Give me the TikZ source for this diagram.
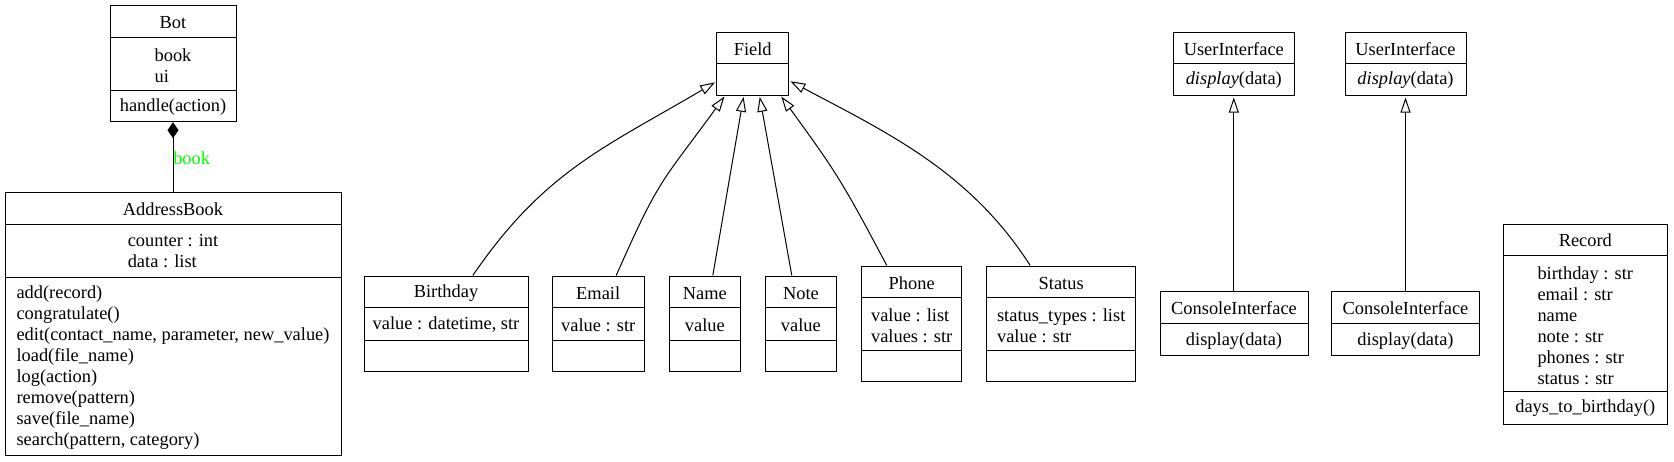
\documentclass[tikz,border=0pt]{standalone}
\usepackage{fontspec}
\setmainfont{Liberation Serif}
\usetikzlibrary{arrows.meta,fit,calc}
\definecolor{lblgreen}{RGB}{0,255,0}
\begin{document}
\begin{tikzpicture}[x=0.75pt,y=-0.75pt,
  box/.style={draw, line width=0.75pt, inner sep=0pt},
  divider/.style={line width=0.75pt},
  txt/.style={inner sep=0pt, font=\fontsize{13.8}{15.75}\selectfont, align=center},
  lft/.style={txt, align=left},
  inh/.style={line width=0.75pt, shorten >=1pt, -{Triangle[open,length=11.25pt,width=7.5pt]}},
  comp/.style={line width=0.75pt, {Diamond[length=12pt,width=8.25pt]}-},
  lbl/.style={inner sep=0pt, font=\fontsize{13.8}{15.75}\selectfont, text=lblgreen}]
\fill[white] (0,0) rectangle (1674,461);
\useasboundingbox (0,0) rectangle (1674,461);

% Bot
\node[box, fit={(110,5.7)(236,121.7)}] (bot) {};
\draw[divider] (110,37.7) -- (236,37.7);
\draw[divider] (110,90) -- (236,90);
\node[txt] (botT) at (173,22.5) {Bot};
\node[lft] (botA) at (173,65.5) {book\\ui};
\node[txt] (botM) at (173,107) {handle(action)};

% AddressBook
\node[box, fit={(5,192)(341,455)}] (ab) {};
\draw[divider] (5,224) -- (341,224);
\draw[divider] (5,277) -- (341,277);
\node[txt] (abT) at (173,209) {AddressBook};
\node[lft] (abA) at (173,251.5) {counter : int\\data : list};
\node[lft] (abM) at (173,368) {add(record)\\congratulate()\\edit(contact\_name, parameter, new\_value)\\load(file\_name)\\log(action)\\remove(pattern)\\save(file\_name)\\search(pattern, category)};

\draw[comp] (bot.south) -- (ab.north);
\node[lbl, anchor=west] (booklbl) at (173,158.3) {book};

% Field
\node[box, fit={(716.7,32.3)(788.7,95)}] (field) {};
\draw[divider] (716.7,63.3) -- (788.7,63.3);
\node[txt] (fieldT) at (752.7,49.3) {Field};

% Birthday
\node[box, fit={(364,276)(528,371)}] (bday) {};
\draw[divider] (364,307.3) -- (528,307.3);
\draw[divider] (364,340) -- (528,340);
\node[txt] (bdayT) at (446,293.3) {Birthday};
\node[txt] (bdayA) at (446,325) {value : datetime, str};

% Email
\node[box, fit={(552,276)(644.3,371)}] (email) {};
\draw[divider] (552,307.3) -- (644.3,307.3);
\draw[divider] (552,340) -- (644.3,340);
\node[txt] (emailT) at (598.2,293.3) {Email};
\node[txt] (emailA) at (598.2,325) {value : str};

% Name
\node[box, fit={(669,276)(740.7,371)}] (name) {};
\draw[divider] (669,307.3) -- (740.7,307.3);
\draw[divider] (669,340) -- (740.7,340);
\node[txt] (nameT) at (704.9,293.3) {Name};
\node[txt] (nameA) at (704.9,325) {value};

% Note
\node[box, fit={(765,276)(836.7,371)}] (note) {};
\draw[divider] (765,307.3) -- (836.7,307.3);
\draw[divider] (765,340) -- (836.7,340);
\node[txt] (noteT) at (800.9,293.3) {Note};
\node[txt] (noteA) at (800.9,325) {value};

% Phone
\node[box, fit={(861.7,266)(961.7,381)}] (phone) {};
\draw[divider] (861.7,297.3) -- (961.7,297.3);
\draw[divider] (861.7,350) -- (961.7,350);
\node[txt] (phoneT) at (911.7,283.3) {Phone};
\node[lft] (phoneA) at (911.7,325.5) {value : list\\values : str};

% Status
\node[box, fit={(986.7,266)(1135.7,381)}] (status) {};
\draw[divider] (986.7,297.3) -- (1135.7,297.3);
\draw[divider] (986.7,350) -- (1135.7,350);
\node[txt] (statusT) at (1061.2,283.3) {Status};
\node[lft] (statusA) at (1061.2,325.5) {status\_types : list\\value : str};

% inheritance edges to Field
\draw[inh] ($(bday.north west)+(109.3,0)$) .. controls (544.4,170.6) and (606.5,146.5) .. ($(field.west)+(0,18)$);
\draw[inh] ($(email.north west)+(64.7,0)$) .. controls (660.3,175.7) and (661.4,183.3) .. ($(field.south west)+(9,0)$);
\draw[inh] ($(name.north west)+(44.3,0)$) -- ($(field.south west)+(27.6,0)$);
\draw[inh] ($(note.north west)+(27.3,0)$) -- ($(field.south west)+(43.3,0)$);
\draw[inh] ($(phone.north west)+(25.6,0)$) .. controls (842.2,181.5) and (836.7,172.8) .. ($(field.south west)+(64.3,0)$);
\draw[inh] ($(status.north west)+(44,0)$) .. controls (970.2,171.9) and (888.6,133.3) .. ($(field.east)+(0,17)$);

% UserInterface 1
\node[box, fit={(1173.3,32.3)(1294.3,95.7)}] (ui1) {};
\draw[divider] (1173.3,63.3) -- (1294.3,63.3);
\node[txt] (ui1T) at (1233.8,49.3) {UserInterface};
\node[txt] (ui1M) at (1233.8,80) {\textit{display}(data)};

% UserInterface 2
\node[box, fit={(1345,32.3)(1466,95.7)}] (ui2) {};
\draw[divider] (1345,63.3) -- (1466,63.3);
\node[txt] (ui2T) at (1405.5,49.3) {UserInterface};
\node[txt] (ui2M) at (1405.5,80) {\textit{display}(data)};

% ConsoleInterface 1
\node[box, fit={(1160,291.7)(1308,355)}] (ci1) {};
\draw[divider] (1160,323.3) -- (1308,323.3);
\node[txt] (ci1T) at (1234,308.3) {ConsoleInterface};
\node[txt] (ci1M) at (1234,340.7) {display(data)};

% ConsoleInterface 2
\node[box, fit={(1331.7,291.7)(1479.3,355)}] (ci2) {};
\draw[divider] (1331.7,323.3) -- (1479.3,323.3);
\node[txt] (ci2T) at (1405.5,308.3) {ConsoleInterface};
\node[txt] (ci2M) at (1405.5,340.7) {display(data)};

\draw[inh] (ui1.south |- ci1.north) -- (ui1.south);
\draw[inh] (ui2.south |- ci2.north) -- (ui2.south);

% Record
\node[box, fit={(1503.3,224)(1667.3,424)}] (record) {};
\draw[divider] (1503.3,255.3) -- (1667.3,255.3);
\draw[divider] (1503.3,391.7) -- (1667.3,391.7);
\node[txt] (recordT) at (1585.3,240.7) {Record};
\node[lft] (recordA) at (1585.3,325.7) {birthday : str\\email : str\\name\\note : str\\phones : str\\status : str};
\node[txt] (recordM) at (1585.3,408.3) {days\_to\_birthday()};
\end{tikzpicture}
\end{document}
